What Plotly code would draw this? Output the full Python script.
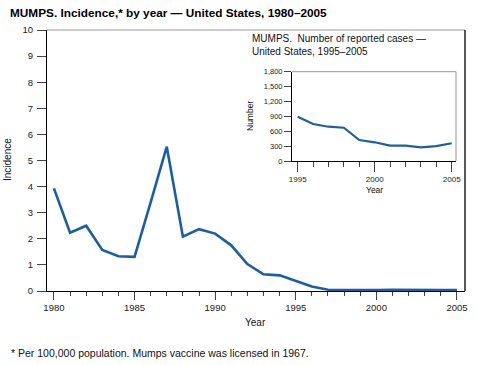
import plotly.graph_objects as go

# Main series: incidence per 100,000 population
years = list(range(1980, 2006))
incidence = [3.93, 2.23, 2.50, 1.57, 1.33, 1.31, 3.40, 5.53, 2.08, 2.37,
             2.20, 1.75, 1.03, 0.64, 0.60, 0.38, 0.17, 0.05, 0.04, 0.04,
             0.04, 0.05, 0.04, 0.04, 0.04, 0.04]

# Inset series: number of reported cases
inset_years = list(range(1995, 2006))
cases = [893, 745, 691, 671, 423, 377, 309, 309, 276, 300, 357]

main_yticks = list(range(0, 11))
inset_yticks = [0, 300, 600, 900, 1200, 1500, 1800]
inset_ytick_labels = ["0", "300", "600", "900", "1,200", "1,500", "1,800"]

W, H = 478, 365
FONT = "Liberation Sans, Arial, Helvetica, sans-serif"
BLUE = "#1b5ea6"


def px(x):
    return x / W


def py(y):
    return 1 - y / H


fig = go.Figure()
fig.add_trace(go.Scatter(x=years, y=incidence, mode="lines",
                         line=dict(color=BLUE, width=2.6), xaxis="x", yaxis="y",
                         showlegend=False, hoverinfo="skip"))
fig.add_trace(go.Scatter(x=inset_years, y=cases, mode="lines",
                         line=dict(color=BLUE, width=2.2), xaxis="x2", yaxis="y2",
                         showlegend=False, hoverinfo="skip"))

tickfont = dict(family=FONT, size=9.5, color="#222")
fig.update_layout(
    template="none",
    width=W, height=H, autosize=False,
    margin=dict(l=0, r=0, t=0, b=0, pad=0, autoexpand=False),
    paper_bgcolor="white", plot_bgcolor="rgba(0,0,0,0)",
    font=dict(family=FONT, color="#111"),
    hovermode=False,
    xaxis=dict(domain=[px(47), px(465)], range=[1979.57, 2005.5], automargin=False,
               showgrid=False, zeroline=False, showline=True, linecolor="black",
               linewidth=1, ticks="outside", ticklen=8, tickcolor="#444",
               tickvals=[1980, 1985, 1990, 1995, 2000, 2005], tickfont=tickfont,
               minor=dict(tickvals=years, ticks="outside", ticklen=4, tickcolor="#444"),
               layer="below traces", anchor="y", fixedrange=True),
    yaxis=dict(domain=[py(291), py(30)], range=[0, 10], showgrid=False, automargin=False,
               zeroline=False, showline=True, linecolor="black", linewidth=1,
               ticks="outside", ticklen=9, tickcolor="#444", tickvals=main_yticks,
               tickfont=tickfont, ticklabelstandoff=2, anchor="x", layer="below traces",
               fixedrange=True),
    xaxis2=dict(domain=[px(292), px(456)], range=[1994.63, 2005.28], automargin=False,
                showgrid=False, zeroline=False, showline=True, linecolor="black",
                linewidth=1, ticks="outside", ticklen=10, tickcolor="#444",
                tickvals=[1995, 2000, 2005], tickfont=dict(family=FONT, size=8, color="#222"),
                minor=dict(tickvals=inset_years, ticks="outside", ticklen=5, tickcolor="#444"),
                anchor="y2", layer="below traces", fixedrange=True),
    yaxis2=dict(domain=[py(161), py(71.7)], range=[0, 1800], showgrid=False, automargin=False,
                zeroline=False, showline=True, linecolor="black", linewidth=1,
                ticks="outside", ticklen=7, tickcolor="#444", tickvals=inset_yticks,
                ticktext=inset_ytick_labels, tickfont=dict(family=FONT, size=7.5, color="#222"),
                anchor="x2", layer="below traces", fixedrange=True),
    shapes=[
        dict(type="line", xref="x domain", yref="y domain", x0=0, x1=1, y0=1, y1=1,
             line=dict(color="#999", width=1)),
        dict(type="line", xref="x domain", yref="y domain", x0=1, x1=1, y0=0, y1=1,
             line=dict(color="black", width=1.3)),
        dict(type="line", xref="x2 domain", yref="y2 domain", x0=0, x1=1, y0=1, y1=1,
             line=dict(color="#999", width=1)),
        dict(type="line", xref="x2 domain", yref="y2 domain", x0=1, x1=1, y0=0, y1=1,
             line=dict(color="#999", width=1)),
    ],
    annotations=[
        dict(text="<b>MUMPS. Incidence,* by year — United States, 1980–2005</b>",
             xref="paper", yref="paper", x=px(8), y=py(12.5), xanchor="left",
             yanchor="middle", showarrow=False, font=dict(family=FONT, size=11.8, color="black")),
        dict(text="Incidence", textangle=-90, xref="paper", yref="paper",
             x=px(7), y=py(160), xanchor="center", yanchor="middle", showarrow=False,
             font=dict(family=FONT, size=10, color="#111")),
        dict(text="Year", xref="paper", yref="paper", x=px(256), y=py(322),
             xanchor="center", yanchor="middle", showarrow=False,
             font=dict(family=FONT, size=10, color="#111")),
        dict(text="MUMPS.  Number of reported cases —<br>United States, 1995–2005",
             xref="paper", yref="paper", x=px(250), y=py(45), xanchor="left",
             yanchor="middle", align="left", showarrow=False,
             font=dict(family=FONT, size=10, color="#111")),
        dict(text="Number", textangle=-90, xref="paper", yref="paper",
             x=px(250), y=py(116), xanchor="center", yanchor="middle", showarrow=False,
             font=dict(family=FONT, size=8.5, color="#111")),
        dict(text="Year", xref="paper", yref="paper", x=px(374), y=py(190),
             xanchor="center", yanchor="middle", showarrow=False,
             font=dict(family=FONT, size=8.5, color="#111")),
        dict(text="* Per 100,000 population. Mumps vaccine was licensed in 1967.",
             xref="paper", yref="paper", x=px(9), y=py(353), xanchor="left",
             yanchor="middle", showarrow=False, font=dict(family=FONT, size=10.5, color="#111")),
    ],
)

fig.write_html("out.html", config={"displayModeBar": False, "staticPlot": True},
               post_script="document.body.style.margin='0';document.body.style.overflow='hidden';")
